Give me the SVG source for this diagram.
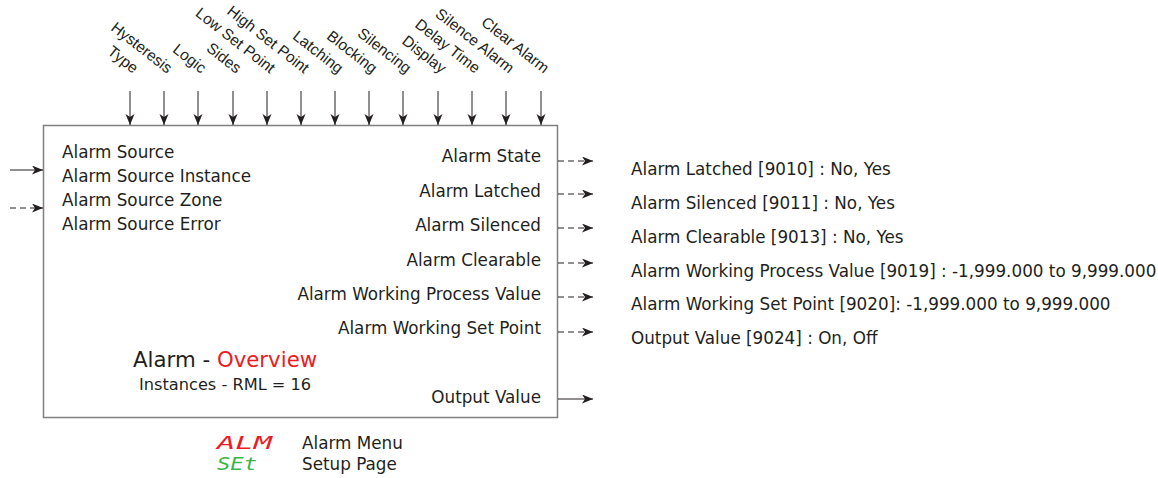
<svg xmlns="http://www.w3.org/2000/svg" width="1158" height="478" viewBox="0 0 1158 478">
<style>
text{font-family:"DejaVu Sans","Verdana",sans-serif;font-size:16.8px;fill:#231f20}
.rot{font-family:"Liberation Sans",Arial,sans-serif;font-size:15.5px;text-anchor:end}
.r{text-anchor:end}
.ln{stroke:#231f20;stroke-width:1;fill:none}
.dash{stroke-dasharray:6,4}
.box{fill:#fff;stroke:#808080;stroke-width:1.5}
.seg{font-family:"DejaVu Sans Mono",monospace;font-style:italic;font-size:18px}
</style>
<defs>
<marker id="ah" markerUnits="userSpaceOnUse" markerWidth="12" markerHeight="10" refX="11" refY="4.5" orient="auto">
<path d="M0,0 L11,4.5 L0,9 L3,4.5 z" fill="#231f20"/>
</marker>
</defs>
<g id="block">
<rect class="box" x="43.5" y="125.5" width="514" height="292"/>
<text x="62" y="158">Alarm Source</text>
<text x="62" y="182">Alarm Source Instance</text>
<text x="62" y="206">Alarm Source Zone</text>
<text x="62" y="230">Alarm Source Error</text>
<text class="r" x="541" y="162">Alarm State</text>
<text class="r" x="541" y="197">Alarm Latched</text>
<text class="r" x="541" y="231">Alarm Silenced</text>
<text class="r" x="541" y="266">Alarm Clearable</text>
<text class="r" x="541" y="300">Alarm Working Process Value</text>
<text class="r" x="541" y="334">Alarm Working Set Point</text>
<text class="r" x="541" y="403">Output Value</text>
<text x="133" y="367" style="font-size:21.3px">Alarm - <tspan style="fill:#ed1c24">Overview</tspan></text>
<text x="139" y="390" style="font-size:16.2px">Instances - RML = 16</text>
</g>
<g id="inputs-top">
<text class="rot" transform="translate(133,74) rotate(38)">Type</text>
<text class="rot" transform="translate(167,74) rotate(38)">Hysteresis</text>
<text class="rot" transform="translate(201,74) rotate(38)">Logic</text>
<text class="rot" transform="translate(236,74) rotate(38)">Sides</text>
<text class="rot" transform="translate(270,74) rotate(38)">Low Set Point</text>
<text class="rot" transform="translate(304,74) rotate(38)">High Set Point</text>
<text class="rot" transform="translate(338,74) rotate(38)">Latching</text>
<text class="rot" transform="translate(372,74) rotate(38)">Blocking</text>
<text class="rot" transform="translate(406,74) rotate(38)">Silencing</text>
<text class="rot" transform="translate(441,74) rotate(38)">Display</text>
<text class="rot" transform="translate(475,74) rotate(38)">Delay Time</text>
<text class="rot" transform="translate(509,74) rotate(38)">Silence Alarm</text>
<text class="rot" transform="translate(544,74) rotate(38)">Clear Alarm</text>
</g>
<g id="values">
<text x="631" y="175">Alarm Latched [9010] : No, Yes</text>
<text x="631" y="209">Alarm Silenced [9011] : No, Yes</text>
<text x="631" y="243">Alarm Clearable [9013] : No, Yes</text>
<text x="631" y="277">Alarm Working Process Value [9019] : -1,999.000 to 9,999.000</text>
<text x="631" y="310">Alarm Working Set Point [9020]: -1,999.000 to 9,999.000</text>
<text x="631" y="344">Output Value [9024] : On, Off</text>
</g>
<g id="legend">
<text class="seg" x="217" y="449" style="fill:#ed1c24" textLength="55" lengthAdjust="spacingAndGlyphs">ALM</text>
<text class="seg" x="217" y="470" style="fill:#39b54a" textLength="40" lengthAdjust="spacingAndGlyphs">SEt</text>
<text x="302" y="449">Alarm Menu</text>
<text x="302" y="470">Setup Page</text>
</g>
<g id="connectors">
<line class="ln" x1="130" y1="91" x2="130" y2="125" marker-end="url(#ah)"/>
<line class="ln" x1="164" y1="91" x2="164" y2="125" marker-end="url(#ah)"/>
<line class="ln" x1="198" y1="91" x2="198" y2="125" marker-end="url(#ah)"/>
<line class="ln" x1="233" y1="91" x2="233" y2="125" marker-end="url(#ah)"/>
<line class="ln" x1="267" y1="91" x2="267" y2="125" marker-end="url(#ah)"/>
<line class="ln" x1="301" y1="91" x2="301" y2="125" marker-end="url(#ah)"/>
<line class="ln" x1="335" y1="91" x2="335" y2="125" marker-end="url(#ah)"/>
<line class="ln" x1="369" y1="91" x2="369" y2="125" marker-end="url(#ah)"/>
<line class="ln" x1="403" y1="91" x2="403" y2="125" marker-end="url(#ah)"/>
<line class="ln" x1="438" y1="91" x2="438" y2="125" marker-end="url(#ah)"/>
<line class="ln" x1="472" y1="91" x2="472" y2="125" marker-end="url(#ah)"/>
<line class="ln" x1="506" y1="91" x2="506" y2="125" marker-end="url(#ah)"/>
<line class="ln" x1="541" y1="91" x2="541" y2="125" marker-end="url(#ah)"/>
<line class="ln" x1="10" y1="170" x2="43" y2="170" marker-end="url(#ah)"/>
<line class="ln dash" x1="10" y1="208" x2="43" y2="208" marker-end="url(#ah)"/>
<line class="ln dash" x1="558" y1="161" x2="593" y2="161" marker-end="url(#ah)"/>
<line class="ln dash" x1="558" y1="194" x2="593" y2="194" marker-end="url(#ah)"/>
<line class="ln dash" x1="558" y1="228" x2="593" y2="228" marker-end="url(#ah)"/>
<line class="ln dash" x1="558" y1="263" x2="593" y2="263" marker-end="url(#ah)"/>
<line class="ln dash" x1="558" y1="297" x2="593" y2="297" marker-end="url(#ah)"/>
<line class="ln dash" x1="558" y1="332" x2="593" y2="332" marker-end="url(#ah)"/>
<line class="ln" x1="558" y1="399" x2="593" y2="399" marker-end="url(#ah)"/>
</g>
</svg>
